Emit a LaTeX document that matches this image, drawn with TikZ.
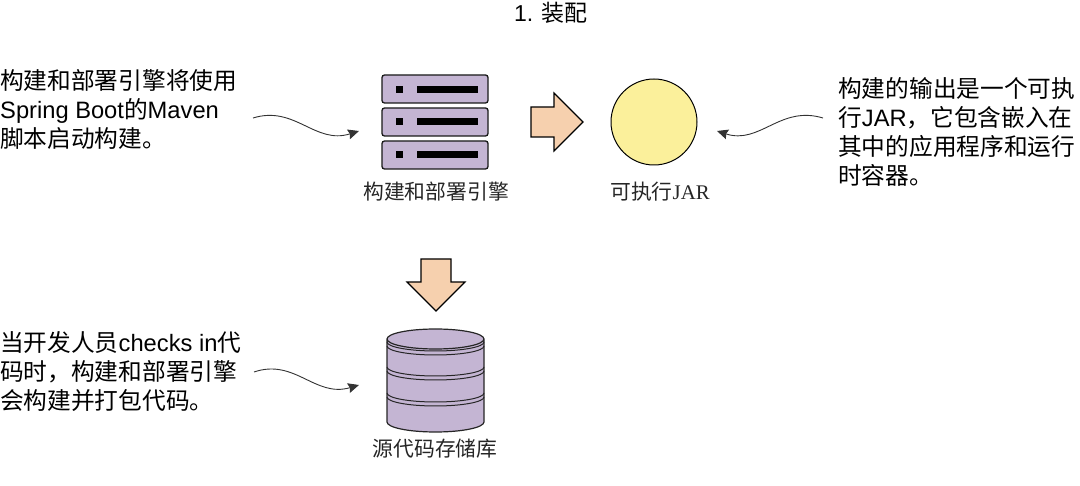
\documentclass[tikz,border=0pt]{standalone}
\usepackage{fontspec}
\setmainfont{Liberation Sans}
\newfontfamily\cjk{Noto Sans CJK SC}
\newfontfamily\serifl{Liberation Serif}
\usetikzlibrary{arrows.meta}
\definecolor{lilac}{HTML}{C4B5D3}
\definecolor{peach}{HTML}{F6D0AE}
\definecolor{sun}{HTML}{FBF09B}
\tikzset{
  x=1pt,y=-1pt,
  note/.style={inner sep=0pt,align=left,anchor=north west,font=\fontsize{23.7}{29}\selectfont},
  iconlabel/.style={inner sep=0pt,font=\fontsize{20.8}{24}\selectfont,text=black!85},
  bigarrow/.style={draw=black,line width=1.2pt,fill=peach,line join=miter},
  rack/.style={draw=black!90,line width=1.3pt,fill=lilac,rounded corners=2.5pt},
  blk/.style={fill=black,draw=none},
  curve/.style={draw=black!80,line width=0.9pt,-{Stealth[length=11pt,width=10pt,inset=1.5pt]}},
  band/.style={draw=black!85,line width=1pt}
}
\begin{document}
\begin{tikzpicture}
\useasboundingbox (0,0) rectangle (1080,486);
\node[inner sep=0pt,font=\fontsize{23}{26}\selectfont] (title) at (551,13) {1. {\cjk 装配}};
\node[note] (n1) at (0,69.5) {{\cjk 构建和部署引擎将使用}\\Spring Boot{\cjk 的}Maven\\{\cjk 脚本启动构建。}};
\node[note] (n2) at (838,77.5) {{\cjk 构建的输出是一个可执}\\{\cjk 行}JAR{\cjk ，它包含嵌入在}\\{\cjk 其中的应用程序和运行}\\{\cjk 时容器。}};
\node[note] (n3) at (0,331.5) {{\cjk 当开发人员}checks in{\cjk 代}\\{\cjk 码时，构建和部署引擎}\\{\cjk 会构建并打包代码。}};
% server
\draw[rack] (382,75) rectangle (488,103);
\draw[rack] (382,108) rectangle (488,136);
\draw[rack] (382,141) rectangle (488,169);
\foreach \yy in {89.5,122,155}{
  \fill[blk] (396,\yy-3.5) rectangle (403,\yy+3.5);
  \fill[blk] (417,\yy-3.5) rectangle (478,\yy+3.5);
}
\coordinate (srv) at (359,131);
\node[iconlabel] (c1) at (436,192) {\cjk 构建和部署引擎};
% arrows
\draw[bigarrow] (531,107) -- (554,107) -- (554,93) -- (583,122) -- (554,151) -- (554,137) -- (531,137) -- cycle;
\draw[bigarrow] (421,259) -- (451,259) -- (451,282) -- (465,282) -- (436,311) -- (407,282) -- (421,282) -- cycle;
% circle
\node[circle,draw=black,line width=1pt,fill=sun,minimum size=86pt,inner sep=0pt] (jar) at (654,122) {};
\node[iconlabel] (c2) at (660,192) {{\cjk 可执行}{\serifl JAR}};
% cylinder
\draw[band,line width=1.2pt,fill=lilac] (387,339) -- (387,422) arc[start angle=180,end angle=360,x radius=48.5pt,y radius=10pt] -- (484,339) arc[start angle=0,end angle=360,x radius=48.5pt,y radius=10pt];
\foreach \yy in {342,346,367,371,393,397}{
  \draw[band] (387,\yy) arc[start angle=180,end angle=360,x radius=48.5pt,y radius=9pt];
}
\node[iconlabel] (c3) at (435,449) {\cjk 源代码存储库};
% curves
\coordinate (a1) at (253,118);
\draw[curve] (a1) .. controls (295,105) and (315,145) .. (srv);
\coordinate (a2) at (823,118);
\coordinate (jr) at (717,131);
\draw[curve] (a2) .. controls (780,105) and (760,145) .. (jr);
\coordinate (a3) at (254,372);
\coordinate (db) at (359,385);
\draw[curve] (a3) .. controls (295,358) and (315,398) .. (db);
\end{tikzpicture}
\end{document}
